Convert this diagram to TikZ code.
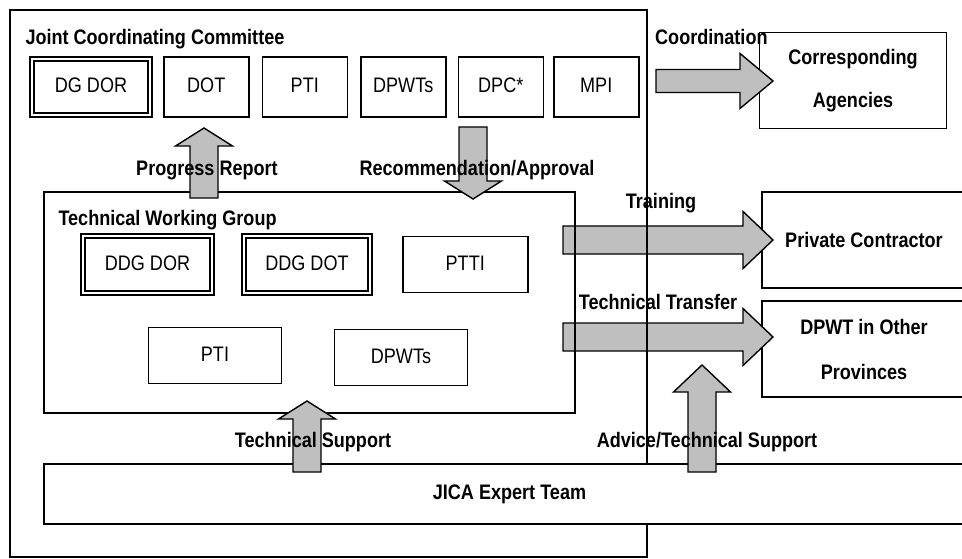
\documentclass[tikz,border=0pt]{standalone}
\usepackage{fontspec}
\setmainfont{Liberation Sans}[FakeStretch=0.86]
\usetikzlibrary{positioning,calc}

% half widths of the fat block arrows
\newcommand{\shafthalf}{14pt}
\newcommand{\headhalf}{28.5pt}
% fat block arrow from tail #2 to tip #3, #1 is the head length
\newcommand{\fatarrow}[3][30pt]{%
  \draw[fatarrow] ($(#2)!\shafthalf!90:(#3)$)
    -- ($(#3)!#1!(#2)!\shafthalf!90:(#3)$)
    -- ($(#3)!#1!(#2)!\headhalf!90:(#3)$)
    -- (#3)
    -- ($(#3)!#1!(#2)!\headhalf!-90:(#3)$)
    -- ($(#3)!#1!(#2)!\shafthalf!-90:(#3)$)
    -- ($(#2)!\shafthalf!-90:(#3)$) -- cycle;}

\begin{document}
\begin{tikzpicture}[x=1pt,y=-1pt,
  every node/.style={inner sep=0pt,font=\fontsize{21}{25}\selectfont,text height=15pt,text depth=4pt},
  member/.style={draw,line width=1.5pt,minimum width=85pt,minimum height=60pt},
  chief/.style={member,line width=2pt,double,double distance=1.5pt},
  group/.style={draw,line width=1.4pt},
  title/.style={font=\fontsize{21}{25}\selectfont\bfseries,anchor=west},
  partner/.style={draw,line width=1.5pt,align=center,text height={},text depth={},
    font=\fontsize{21}{25}\selectfont\bfseries},
  flow/.style={font=\fontsize{21}{25}\selectfont\bfseries},
  fatarrow/.style={draw,fill=gray!50,line width=1.4pt,line join=miter}]
  \fill[white] (0,0) rectangle (962,559);
  \useasboundingbox (0,0) rectangle (962,559);

  % agencies outside the committee
  \node[partner,minimum width=187pt,minimum height=96pt] (agencies) at (853,80.5)
    {Corresponding\\[18pt]Agencies};
  \node[partner,minimum width=204pt,minimum height=96pt] (contractor) at (864,240)
    {Private Contractor};
  \node[partner,minimum width=204pt,minimum height=96pt] (provinces) at (864,349)
    {DPWT in Other\\[20pt]Provinces};

  % arrows leaving the committee
  \coordinate (coord-s) at (656,81);  \coordinate (coord-e) at (773,81);
  \coordinate (train-s) at (563,240); \coordinate (train-e) at (773,240);
  \coordinate (trans-s) at (563,337); \coordinate (trans-e) at (773,337);
  {\renewcommand{\shafthalf}{11.5pt}\renewcommand{\headhalf}{27.5pt}%
   \fatarrow[33pt]{coord-s}{coord-e}}
  \fatarrow{train-s}{train-e}
  \fatarrow{trans-s}{trans-e}

  % committee and working group
  \node[group,minimum width=637pt,minimum height=547pt] (jcc) at (328.5,283.5) {};
  \node[title] (jcctitle) at ([shift={(16,30)}]jcc.north west) {Joint Coordinating Committee};
  \node[group,minimum width=531pt,minimum height=221pt] (twg) at (309.5,302.5) {};
  \node[title] (twgtitle) at ([shift={(15,29)}]twg.north west) {Technical Working Group};

  \node[chief,minimum width=118pt,minimum height=56pt] (dgdor) at (91,87) {DG DOR};
  \node[member,right=12pt of dgdor] (dot) {DOT};
  \node[member,right=12pt of dot] (pti) {PTI};
  \node[member,right=12pt of pti] (dpwts) {DPWTs};
  \node[member,right=11pt of dpwts] (dpc) {DPC*};
  \node[member,right=9pt of dpc] (mpi) {MPI};

  \node[chief,minimum width=129pt,minimum height=57pt] (ddgdor) at (147.5,264.5) {DDG DOR};
  \node[chief,minimum width=126pt,minimum height=57pt,right=30pt of ddgdor] (ddgdot) {DDG DOT};
  \node[member,minimum width=125pt,minimum height=56pt,right=31pt of ddgdot] (ptti) {PTTI};
  \node[member,minimum width=133pt,minimum height=56pt] (twgpti) at (215,355.5) {PTI};
  \node[member,minimum width=133pt,minimum height=56pt] (twgdpwts) at (401,357.5) {DPWTs};

  % expert team
  \node[group,line width=1.5pt,fill=white,minimum width=931pt,minimum height=60pt] (jica) at (509.5,494)
    {\bfseries JICA Expert Team};

  % reporting and support arrows
  \coordinate (report-s) at (204,198); \coordinate (report-e) at (204,128);
  \coordinate (recom-s) at (473,127);  \coordinate (recom-e) at (473,199);
  \coordinate (tsup-s) at (307,472);   \coordinate (tsup-e) at (307,401);
  \coordinate (advice-s) at (702,472); \coordinate (advice-e) at (702,365);
  \fatarrow[18pt]{report-s}{report-e}
  \fatarrow[18pt]{recom-s}{recom-e}
  \fatarrow[18pt]{tsup-s}{tsup-e}
  \fatarrow[27pt]{advice-s}{advice-e}

  % arrow labels
  \node[flow,anchor=west] (coordlbl) at (655,39) {Coordination};
  \node[flow] (reportlbl) at (207,170) {Progress Report};
  \node[flow] (recomlbl) at (477,170) {Recommendation/Approval};
  \node[flow] (trainlbl) at (661,203) {Training};
  \node[flow] (translbl) at (658,304) {Technical Transfer};
  \node[flow] (tsuplbl) at (313,442) {Technical Support};
  \node[flow] (advicelbl) at (707,442) {Advice/Technical Support};
\end{tikzpicture}
\end{document}
